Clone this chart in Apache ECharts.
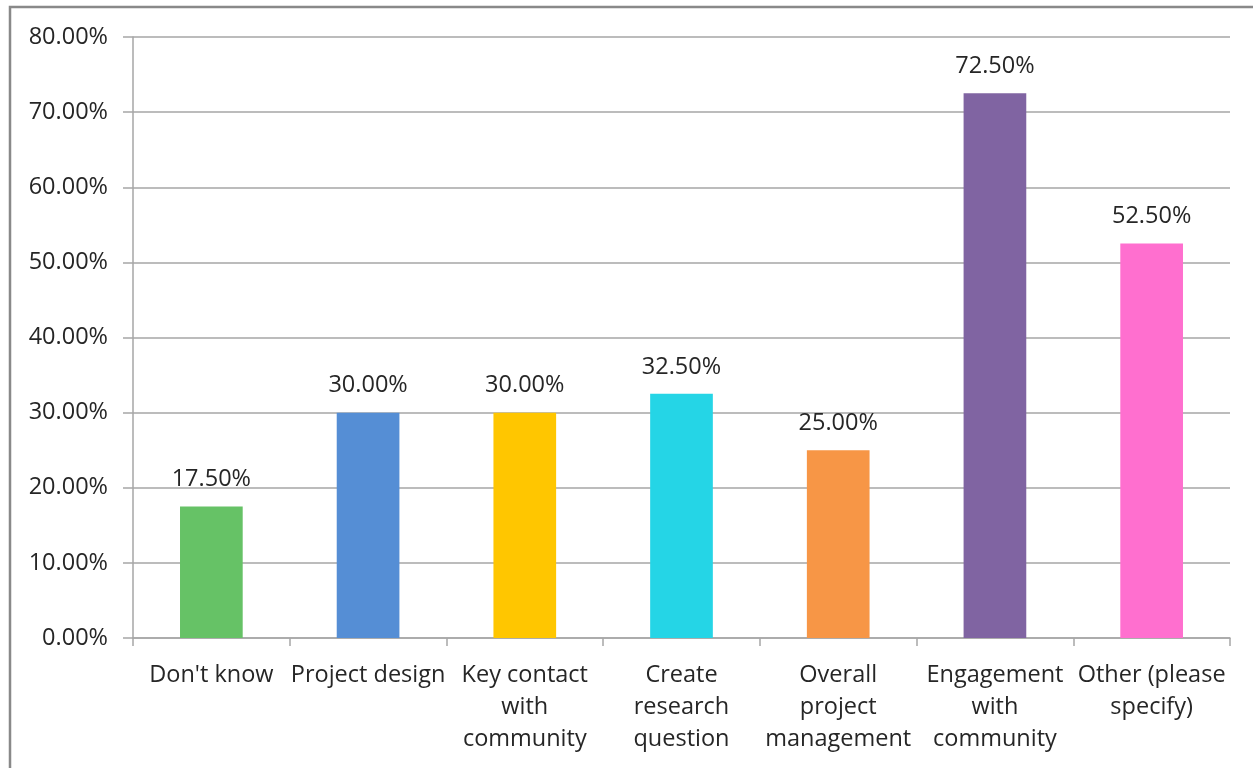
<!DOCTYPE html>
<html>
<head>
<meta charset="utf-8">
<script src="https://cdn.jsdelivr.net/npm/echarts@6/dist/echarts.min.js"></script>
<style>
  html, body { margin: 0; padding: 0; background: #fff; }
  #chart { width: 1253px; height: 768px; }
</style>
</head>
<body>
<div id="chart"></div>
<script>
// Survey responses: share of respondents per role
const categories = [
  "Don't know",
  "Project design",
  "Key contact\nwith\ncommunity",
  "Create\nresearch\nquestion",
  "Overall\nproject\nmanagement",
  "Engagement\nwith\ncommunity",
  "Other (please\nspecify)"
];
const values = [17.5, 30.0, 30.0, 32.5, 25.0, 72.5, 52.5];
const barColors = ['#66c266', '#558ed5', '#ffc600', '#25d5e6', '#f79646', '#8064a2', '#ff6fcf'];

const FONT = '"Open Sans", "Noto Sans", sans-serif';
const FONT_SIZE = 23.5;
const chart = echarts.init(document.getElementById('chart'));

chart.setOption({
  animation: false,
  backgroundColor: '#fff',
  graphic: [{
    type: 'rect',
    shape: { x: 10, y: 7, width: 1300, height: 800 },
    style: { fill: 'none', stroke: '#898989', lineWidth: 2.5 },
    silent: true
  }],
  grid: { left: 133, right: 23, top: 37, bottom: 130 },
  xAxis: {
    type: 'category',
    data: categories,
    axisLine: { lineStyle: { color: '#a6a6a6', width: 1.5 } },
    axisTick: { show: true, length: 8, alignWithLabel: false, lineStyle: { color: '#a6a6a6', width: 1.5 } },
    axisLabel: {
      interval: 0,
      margin: 21,
      color: '#262626',
      fontFamily: FONT,
      fontSize: FONT_SIZE,
      lineHeight: 32,
      align: 'center'
    }
  },
  yAxis: {
    type: 'value',
    min: 0,
    max: 80,
    interval: 10,
    axisLine: { show: true, lineStyle: { color: '#a6a6a6', width: 1.5 } },
    axisTick: { show: true, length: 10, lineStyle: { color: '#a6a6a6', width: 1.5 } },
    splitLine: { lineStyle: { color: '#a6a6a6', width: 1.5 } },
    axisLabel: {
      margin: 25,
      color: '#262626',
      fontFamily: FONT,
      fontSize: FONT_SIZE,
      formatter: v => v.toFixed(2) + '%'
    }
  },
  series: [{
    type: 'bar',
    barWidth: '40%',
    data: values.map((v, i) => ({ value: v, itemStyle: { color: barColors[i] } })),
    label: {
      show: true,
      position: 'top',
      distance: 15,
      color: '#262626',
      fontFamily: FONT,
      fontSize: FONT_SIZE,
      lineHeight: 24,
      formatter: p => p.value.toFixed(2) + '%'
    }
  }]
});
</script>
</body>
</html>
